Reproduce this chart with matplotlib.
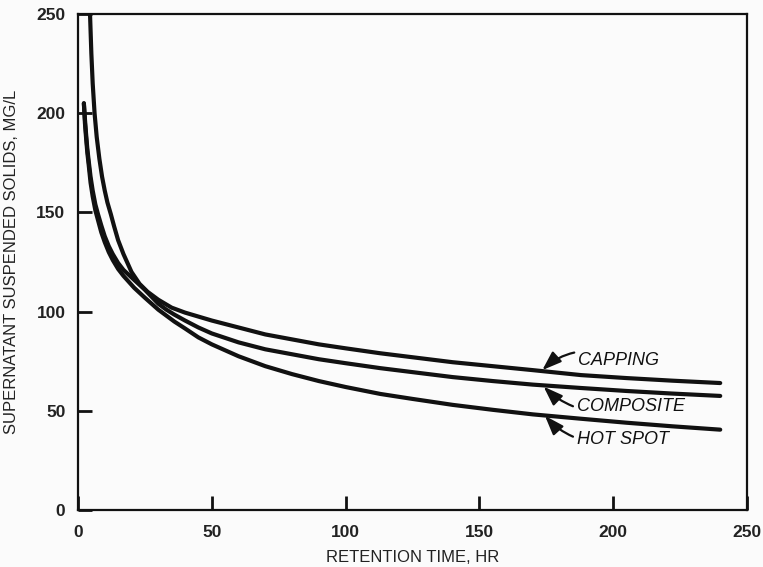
import matplotlib
matplotlib.use("Agg")
import matplotlib.pyplot as plt

plt.rcParams['font.family'] = ['Liberation Sans', 'DejaVu Sans']

# Retention time (hr) and supernatant suspended solids (mg/L) for each sludge
capping_t = [4.5, 5.0, 5.5, 6.2, 7.0, 8.0, 9.0, 10.0, 11.0, 12.3, 13.5, 15.0, 17.0,
             20.0, 23.0, 26.0, 30.0, 35.0, 40.0, 45.0, 50.0, 60.0, 70.0, 80.0, 90.0,
             100.0, 113.0, 125.0, 140.0, 155.0, 170.0, 188.0, 205.0, 222.0, 240.0]
capping_ss = [250, 230, 215, 200, 188, 177, 168, 161, 155, 149, 143, 136, 129,
              120, 114, 110, 106, 102, 99.5, 97.5, 95.5, 92, 88.5, 86, 83.5,
              81.5, 79, 77, 74.5, 72.5, 70.5, 68, 66.5, 65.2, 64]

composite_t = [2.2, 2.6, 3.0, 3.5, 4.0, 4.7, 5.5, 6.5, 7.5, 8.7, 10.0, 11.5, 13.0,
               15.0, 17.0, 19.0, 21.0, 23.0, 25.0, 27.5, 30.0, 33.0, 36.0, 40.0,
               45.0, 50.0, 60.0, 70.0, 80.0, 90.0, 100.0, 113.0, 125.0, 140.0,
               155.0, 170.0, 188.0, 205.0, 222.0, 240.0]
composite_ss = [205, 197, 190, 182, 176, 168, 161, 154, 149, 143.5, 138, 133, 129,
                124.5, 121, 118.5, 116, 113.5, 111, 107.5, 104, 101, 98.5, 95.5,
                92, 89, 84.5, 81, 78.5, 76, 74, 71.5, 69.5, 67, 65,
                63.2, 61.5, 60, 58.7, 57.5]

hotspot_t = [2.2, 2.6, 3.0, 3.5, 4.0, 4.7, 5.5, 6.5, 7.5, 8.7, 10.0, 11.5, 13.0,
             15.0, 17.0, 19.0, 21.0, 23.0, 25.0, 27.5, 30.0, 33.0, 36.0, 40.0,
             45.0, 50.0, 60.0, 70.0, 80.0, 90.0, 100.0, 113.0, 125.0, 140.0,
             155.0, 170.0, 188.0, 205.0, 222.0, 240.0]
hotspot_ss = [205, 195, 188, 180, 174, 165, 158, 151, 146, 140, 135, 130, 126,
              121.5, 118, 115, 112, 109.5, 107, 104, 101, 98, 95, 91.5,
              87, 83.5, 77.5, 72.5, 68.5, 65, 62, 58.5, 56, 53, 50.5,
              48.2, 46, 44, 42.2, 40.5]

x_ticks = [0, 50, 100, 150, 200, 250]
y_ticks = [0, 50, 100, 150, 200, 250]

fig = plt.figure(figsize=(7.63, 5.67), dpi=100, facecolor='#fbfbfb')
ax = fig.add_axes([0.1022, 0.1005, 0.8768, 0.8748])
ax.set_facecolor('#fbfbfb')

line_kw = dict(color='#111111', lw=3.0, solid_capstyle='round', solid_joinstyle='round')
ax.plot(capping_t, capping_ss, **line_kw)
ax.plot(composite_t, composite_ss, **line_kw)
ax.plot(hotspot_t, hotspot_ss, **line_kw)

ax.set_xlim(0, 250)
ax.set_ylim(0, 250)
ax.set_xticks(x_ticks)
ax.set_yticks(y_ticks)
ax.tick_params(direction='in', length=10, width=2, color='#111111',
               labelsize=12.5, labelcolor='#222222')
ax.tick_params(axis='x', pad=11)
ax.tick_params(axis='y', pad=9)
for lab in ax.get_xticklabels() + ax.get_yticklabels():
    lab.set_fontweight('bold')
for sp in ax.spines.values():
    sp.set_linewidth(1.6)
    sp.set_color('#111111')

ax.set_xlabel('RETENTION TIME, HR', fontsize=12, color='#222222', va='center')
ax.set_ylabel('SUPERNATANT SUSPENDED SOLIDS, MG/L', fontsize=12,
              color='#222222', va='center')
ax.xaxis.set_label_coords(0.5, -0.095)
ax.yaxis.set_label_coords(-0.099, 0.5)

arrow_kw = dict(arrowstyle='-|>,head_length=0.9,head_width=0.32', color='#111111',
                lw=1.6, shrinkA=1, shrinkB=0)
ax.annotate('CAPPING', xy=(173.5, 70.5), xytext=(187.0, 75.5),
            fontsize=13, style='italic', color='#111111', va='center', ha='left',
            arrowprops=dict(connectionstyle='arc3,rad=0.35', **arrow_kw))
ax.annotate('COMPOSITE', xy=(174.0, 62.2), xytext=(186.5, 52.0),
            fontsize=13, style='italic', color='#111111', va='center', ha='left',
            arrowprops=dict(connectionstyle='arc3,rad=-0.3', **arrow_kw))
ax.annotate('HOT SPOT', xy=(174.5, 47.5), xytext=(186.5, 35.5),
            fontsize=13, style='italic', color='#111111', va='center', ha='left',
            arrowprops=dict(connectionstyle='arc3,rad=-0.3', **arrow_kw))

fig.savefig('out.png', dpi=100, facecolor=fig.get_facecolor())
